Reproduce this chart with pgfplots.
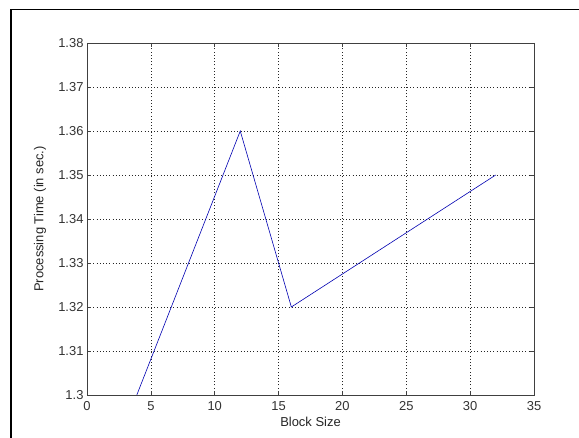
\documentclass[border=0pt]{standalone}
\usepackage{pgfplots}
\pgfplotsset{compat=1.18}
\usepackage{fontspec}
\setmainfont{Liberation Sans}
\begin{document}
\begin{tikzpicture}[x=1bp,y=1bp]
\useasboundingbox (0,0) rectangle (579,438);
\fill[white] (0,0) rectangle (579,438);
\draw[line width=1.6bp] (11,0) -- (11,428.5) -- (579,428.5);
\begin{axis}[
  at={(87bp,43bp)}, anchor=south west,
  scale only axis, width=447bp, height=352bp,
  xmin=0, xmax=35, ymin=1.3, ymax=1.38,
  xtick={0,5,...,35},
  ytick={1.30,1.31,1.32,1.33,1.34,1.35,1.36,1.37,1.38},
  yticklabels={1.3,1.31,1.32,1.33,1.34,1.35,1.36,1.37,1.38},
  xticklabels={0,5,10,15,20,25,30,35},
  tick align=inside,
  major tick length=4bp,
  grid=major,
  major grid style={black!85, dash pattern=on 1bp off 2.2bp, line width=0.6bp},
  axis line style={black!75, line width=0.6bp},
  tick style={black!75, line width=0.6bp},
  every tick label/.append style={font=\fontsize{13}{15}\selectfont, text=black!80},
  xticklabel style={yshift=-3bp},
  label style={font=\fontsize{13}{15}\selectfont, text=black!85},
  xlabel={Block Size},
  ylabel={Processing Time (in sec.)},
  xlabel style={at={(axis description cs:0.5,-0.0753)}, anchor=center},
  ylabel style={at={(axis description cs:-0.105,0.5)}, anchor=center},
  clip=true,
]
\addplot[color=blue!70!black, line width=0.6bp, mark=none] coordinates {
  (3.9,1.30) (12,1.36) (16,1.32) (32,1.35)
};
\end{axis}
\end{tikzpicture}
\end{document}
